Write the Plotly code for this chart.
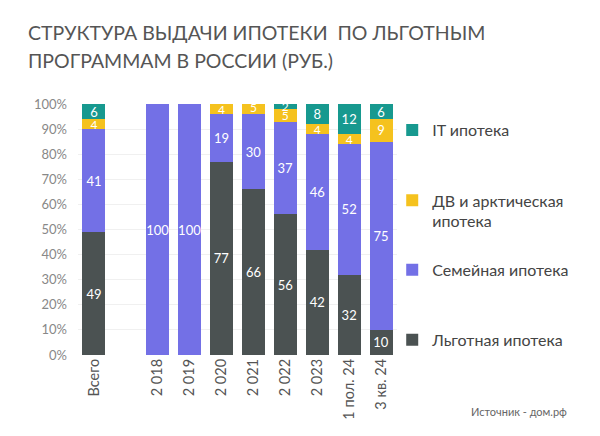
import plotly.graph_objects as go

categories = ["Всего", " ", "2 018", "2 019", "2 020", "2 021", "2 022", "2 023", "1 пол. 24", "3 кв. 24"]
lgotnaya = [49, None, 0, 0, 77, 66, 56, 42, 32, 10]
semeynaya = [41, None, 100, 100, 19, 30, 37, 46, 52, 75]
dv_arctic = [4, None, 0, 0, 4, 5, 5, 4, 4, 9]
it_ipoteka = [6, None, 0, 0, 0, 0, 2, 8, 12, 6]
y_ticks = [0, 10, 20, 30, 40, 50, 60, 70, 80, 90, 100]
y_tick_labels = [f"{v}%" for v in y_ticks]

series = [
    ("Льготная ипотека", lgotnaya, "#4b5252", "legend4", 0.060),
    ("Семейная ипотека", semeynaya, "#7370e6", "legend3", 0.339),
    ("ДВ и арктическая<br>ипотека", dv_arctic, "#f5c21e", "legend2", 0.574),
    ("IT ипотека", it_ipoteka, "#17998f", "legend", 0.896),
]

FONT = "Lato"
fig = go.Figure()
for name, vals, color, lg, _ in series:
    fig.add_trace(go.Bar(
        x=categories, y=vals, name=name, marker=dict(color=color, line=dict(width=0)),
        text=[str(v) if v else "" for v in vals],
        textposition="inside", insidetextanchor="middle", textangle=0,
        constraintext="none",
        textfont=dict(color="white", family=FONT,
                      size=[13 if (v or 0) > 5 else 12 for v in vals]),
        legend=lg, hoverinfo="skip", showlegend=True,
    ))

legend_common = dict(x=0.985, xanchor="left", yanchor="middle", bgcolor="rgba(0,0,0,0)",
                     font=dict(size=16, color="#444", family=FONT), valign="top",
                     itemclick=False, visible=True)
layout_legends = {}
for name, vals, color, lg, ypos in series:
    layout_legends[lg] = dict(legend_common, y=ypos)

title_lines = ["СТРУКТУРА ВЫДАЧИ ИПОТЕКИ  ПО ЛЬГОТНЫМ", "ПРОГРАММАМ В РОССИИ (РУБ.)"]
title_y = [1.285, 1.172]
annotations = [dict(text=t, xref="paper", yref="paper", x=-0.162, y=yy, xanchor="left",
                    yanchor="middle", showarrow=False,
                    font=dict(size=19.5, color="#555", family=FONT))
               for t, yy in zip(title_lines, title_y)]
annotations.append(dict(text="Источник - дом.рф", xref="paper", yref="paper", x=1.54, y=-0.227,
                        xanchor="right", yanchor="middle", showarrow=False,
                        font=dict(size=11, color="#666", family=FONT)))

fig.update_layout(
    width=592, height=428,
    margin=dict(l=69.5, r=202.5, t=96, b=81, autoexpand=False),
    paper_bgcolor="white", plot_bgcolor="white",
    barmode="stack", bargap=0.28,
    font=dict(family=FONT),
    showlegend=True,
    xaxis=dict(type="category", categoryorder="array", categoryarray=categories,
               tickangle=-90, tickfont=dict(size=14.5, color="#555", family=FONT),
               showgrid=False, showline=False, ticks=""),
    yaxis=dict(range=[0, 100], tickvals=y_ticks, ticktext=y_tick_labels,
               tickfont=dict(size=13, color="#888", family=FONT),
               showgrid=True, gridcolor="#f0f0f0", gridwidth=1, zeroline=False,
               ticklabelstandoff=10, showline=False),
    annotations=annotations,
    **layout_legends,
)

fig.write_html("out.html")
